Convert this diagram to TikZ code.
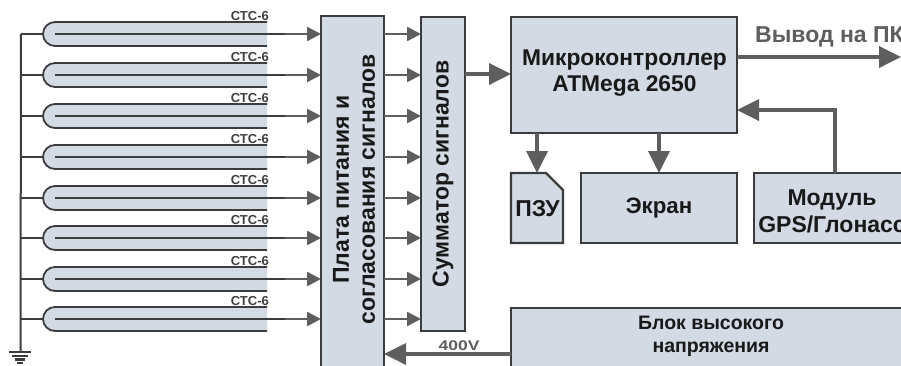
\documentclass[tikz,border=0pt]{standalone}
\usepackage{fontspec}
\setmainfont{Liberation Sans}
\usetikzlibrary{arrows.meta}
\definecolor{blk}{HTML}{D3DAE3}
\definecolor{edge}{HTML}{3C3C3C}
\definecolor{arr}{HTML}{5E5E5E}
\tikzset{
  box/.style={draw=edge,fill=blk,line width=2.4pt,inner sep=0pt,outer sep=0pt,align=center,font=\bfseries,text=black!90},
  small/.style={-{Triangle[length=14pt,width=14pt]},draw=arr,line width=2.4pt},
  big/.style={-{Triangle[length=22pt,width=21pt]},draw=arr,line width=3.6pt},
  wire/.style={draw=edge,line width=2pt},
  tube/.style={draw=edge,line width=1.8pt},
}
\begin{document}
\begin{tikzpicture}[x=1pt,y=-1pt]
\useasboundingbox (0,0) rectangle (901,365);
\clip (0,0) rectangle (901,365);
\fill[white] (0,0) rectangle (901,365);
% boxes
\node[box,minimum width=63pt,minimum height=374pt] (board) at (352.5,203) {};
\node[font=\bfseries\fontsize{23}{26}\selectfont,text=black!90,align=center,rotate=90] (boardtext) at (354,189.5) {Плата питания и\\согласования сигналов};
\node[box,rotate=90,minimum width=314pt,minimum height=44pt,font=\bfseries\fontsize{23}{26}\selectfont] (sum) at (443,174) {Сумматор сигналов};
\node[box,minimum width=226pt,minimum height=116pt] (mcu) at (624,75) {};
\node[font=\bfseries\fontsize{22.8}{26}\selectfont,text=black!90,align=center] (mcutext) at (624.5,73) {Микроконтроллер\\ATMega 2650};
\node[box,minimum width=156pt,minimum height=70pt,font=\bfseries\fontsize{22.3}{26}\selectfont] (scr) at (659,208) {Экран};
\node[box,minimum width=190pt,minimum height=70pt] (gps) at (849,208) {};
\node[font=\bfseries\fontsize{23}{27}\selectfont,text=black!90,align=center] (gpstext) at (832,211) {Модуль\\GPS/Глонасс};
\node[box,minimum width=420pt,minimum height=80pt] (hv) at (721,348) {};
\node[font=\bfseries\fontsize{19.5}{23}\selectfont,text=black!90,align=center] (hvtext) at (711,336) {Блок высокого\\напряжения};
% PZU
\draw[box] (511,173) coordinate (pa) -- (546,173) -- (563,190) coordinate (pb) -- (563,243) coordinate (pc) -- (511,243) coordinate (pd) -- cycle;
\node[font=\bfseries\fontsize{23}{26}\selectfont,text=black!90] (pzu) at (537.5,209) {ПЗУ};
\coordinate (pztop) at (537,173);
% bus and ground
\coordinate (bustop) at (21,34);
\coordinate (gnd) at (20.5,352);
\draw[wire] (bustop) -- (gnd);
\draw[line width=2.2pt,edge] (9,352) coordinate (g1) -- (31,352) coordinate (g2);
\draw[line width=2.2pt,edge] (12,356) -- (28,356);
\draw[line width=2.2pt,edge] (15,359.5) -- (25,359.5);
\draw[line width=2.2pt,edge] (17,363) -- (23,363);
% tubes
\foreach \c/\n in {34/1,75/2,116/3,157/4,198/5,238/6,279/7,319/8}{
  \fill[blk] (267,\c-12) -- (55,\c-12) arc[start angle=270,end angle=90,radius=12] -- (267,\c+12) -- cycle;
  \draw[tube] (267,\c-12) -- (55,\c-12) arc[start angle=270,end angle=90,radius=12] coordinate (t\n) -- (267,\c+12);
  \coordinate (inner\n) at (55,\c);
  \coordinate (mid\n) at (285,\c);
  \coordinate (bus\n) at (21,\c);
  \coordinate (left\n) at (43,\c);
  \draw[wire] (bus\n) -- (left\n);
  \draw[small] (mid\n) -- (board.west |- mid\n);
  \draw[wire] (inner\n) -- (mid\n);
  \draw[small] (board.east |- mid\n) -- (sum.north |- mid\n);
  \node[font=\bfseries\fontsize{13}{14}\selectfont,text=black!75,anchor=south east,inner sep=0pt] (lab\n) at (269,\c-13) {СТС-6};
}
% main arrows
\draw[big] (sum.south |- 0,74) -- (mcu.west |- 0,74);
\draw[big] (mcu.east |- 0,57) coordinate (o1) -- (901,57) coordinate (o2);
\node[font=\bfseries\fontsize{23}{26}\selectfont,text=arr,anchor=west,inner sep=0pt] (out) at (755,37) {Вывод на ПК};
\draw[big] (gps.north -| 835,0) -- (835,110) -- (mcu.east |- 0,110);
\draw[big] (mcu.south -| pztop) -- (pztop);
\draw[big] (mcu.south -| scr.north) -- (scr.north);
\draw[big] (hv.west |- 0,354) -- (board.east |- 0,354);
\node[font=\bfseries\fontsize{14}{16}\selectfont,text=arr,inner sep=0pt,xscale=1.25] (v) at (459,346) {400V};
\end{tikzpicture}
\end{document}
